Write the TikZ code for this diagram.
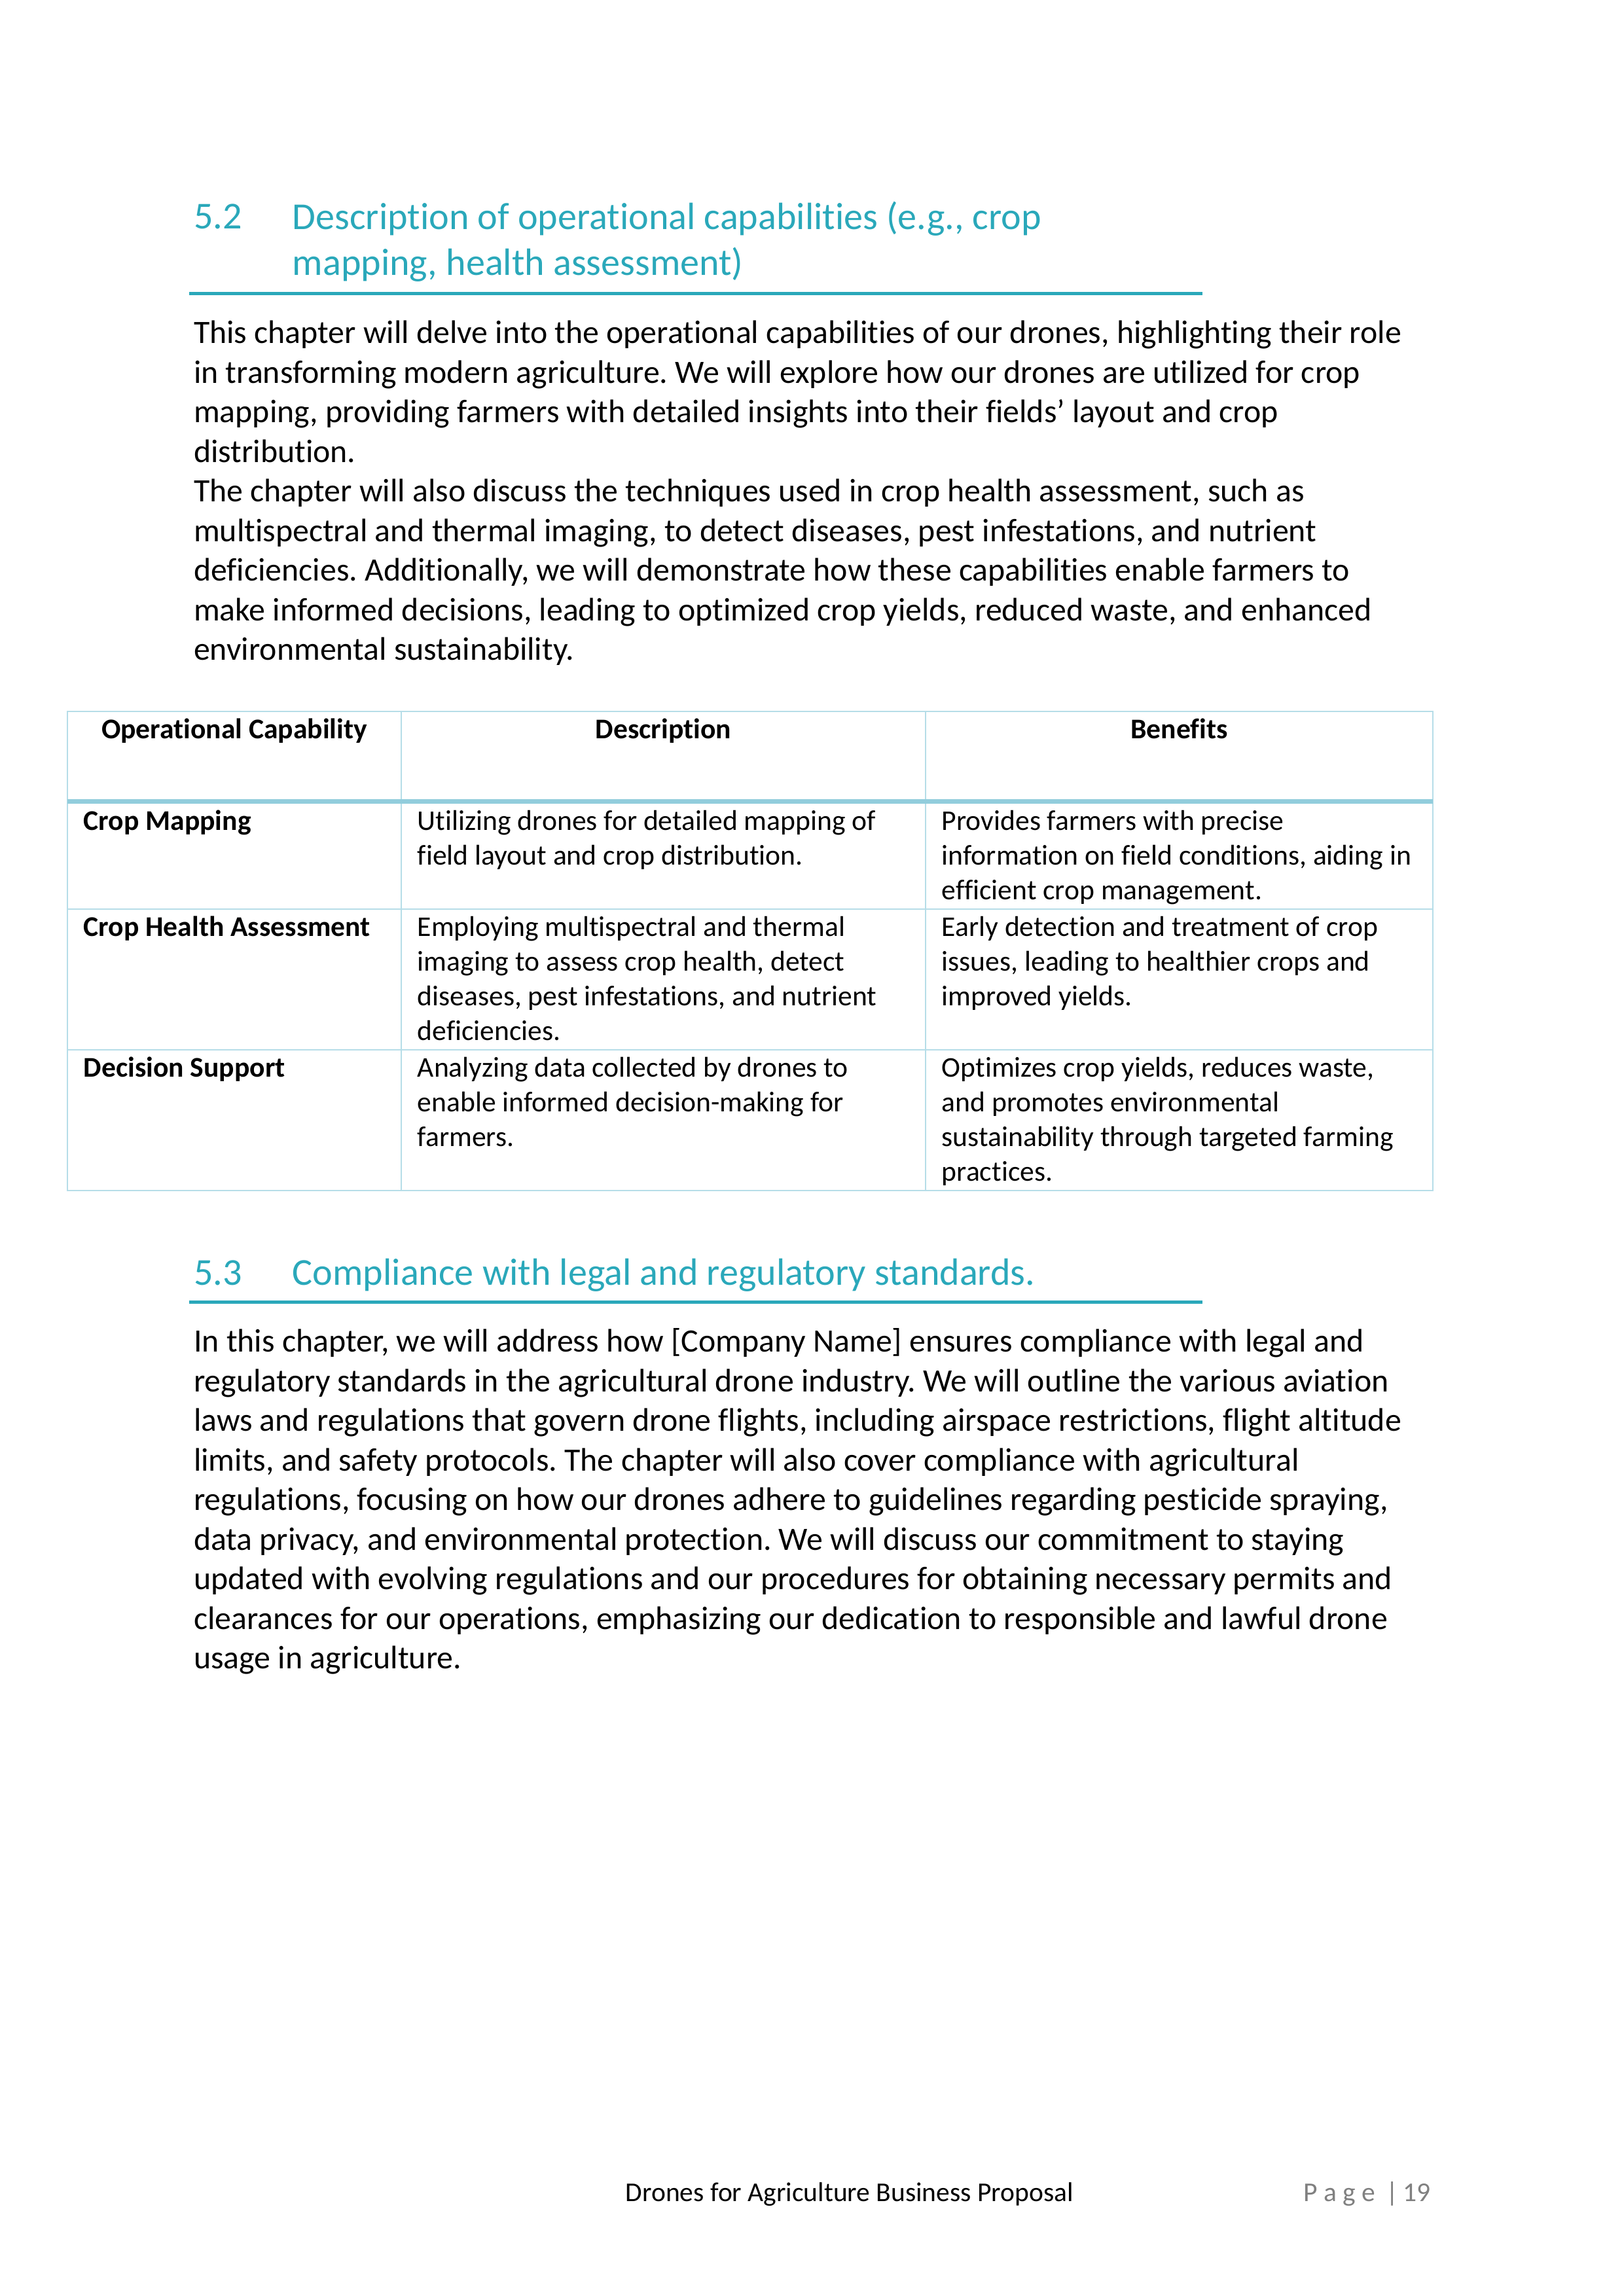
\documentclass[tikz,border=0pt]{standalone}
\usepackage{fontspec}
\setmainfont{Carlito}[Ligatures={TeX,NoCommon}]
\frenchspacing
\definecolor{tituloazul}{RGB}{42,168,186}
\definecolor{gradeazul}{RGB}{182,221,232}
\definecolor{gradeforte}{RGB}{146,205,220}
\definecolor{rodapecinza}{RGB}{128,128,128}
\tikzset{
  texto/.style={anchor=base west, inner sep=0pt, align=left, font=\fontsize{12}{14.57}\selectfont},
  titulo/.style={anchor=base west, inner sep=0pt, align=left, text=tituloazul, font=\fontsize{14}{16.8}\selectfont},
  celula/.style={anchor=base west, inner sep=0pt, align=left, font=\fontsize{10.5}{12.72}\selectfont},
  celulanegrito/.style={celula, font=\fontsize{10.5}{12.72}\selectfont\bfseries},
  cabecalho/.style={anchor=base, inner sep=0pt, font=\fontsize{10.5}{12.72}\selectfont\bfseries},
  grade/.style={draw=gradeazul, line width=0.6pt},
  regua/.style={draw=tituloazul, line width=1.2pt},
}
\begin{document}
\begin{tikzpicture} %Pagina A4 (ancora base = ultima linha do texto)
	\useasboundingbox (0,0) rectangle (21,-29.7);
		%Secao 5.2
	\node[titulo] (num52) at (2.5,-2.963) {5.2};
	\node[titulo] (tit52) at (3.776,-3.556) {Description of operational capabilities (e.g., crop\\mapping, health assessment)};
	\draw[regua] (2.447,-3.797) -- (15.553,-3.797); %Linha do titulo
	\node[texto] (par52) at (2.5,-8.539) {This chapter will delve into the operational capabilities of our drones, highlighting their role\\in transforming modern agriculture. We will explore how our drones are utilized for crop\\mapping, providing farmers with detailed insights into their fields' layout and crop\\distribution.\\The chapter will also discuss the techniques used in crop health assessment, such as\\multispectral and thermal imaging, to detect diseases, pest infestations, and nutrient\\deficiencies. Additionally, we will demonstrate how these capabilities enable farmers to\\make informed decisions, leading to optimized crop yields, reduced waste, and enhanced\\environmental sustainability.};
		%Tabela
	\draw[grade] (0.872,-9.203) rectangle (18.533,-15.401);
	\draw[grade] (5.190,-9.203) -- (5.190,-15.401);
	\draw[grade] (11.972,-9.203) -- (11.972,-15.401);
	\draw[grade] (0.872,-11.760) -- (18.533,-11.760);
	\draw[grade] (0.872,-13.580) -- (18.533,-13.580);
	\draw[gradeforte, line width=1.5pt] (0.872,-10.367) -- (18.533,-10.367); %Linha do cabecalho
	\node[cabecalho] (cabcap) at (3.031,-9.550) {Operational Capability};
	\node[cabecalho] (cabdesc) at (8.581,-9.550) {Description};
	\node[cabecalho] (cabben) at (15.253,-9.550) {Benefits};
		%Linha 1
	\node[celulanegrito] (cap1) at (1.075,-10.736) {Crop Mapping};
	\node[celula] (desc1) at (5.393,-11.185) {Utilizing drones for detailed mapping of\\field layout and crop distribution.};
	\node[celula] (ben1) at (12.175,-11.633) {Provides farmers with precise\\information on field conditions, aiding in\\efficient crop management.};
		%Linha 2
	\node[celulanegrito] (cap2) at (1.075,-12.107) {Crop Health Assessment};
	\node[celula] (desc2) at (5.393,-13.453) {Employing multispectral and thermal\\imaging to assess crop health, detect\\diseases, pest infestations, and nutrient\\deficiencies.};
	\node[celula] (ben2) at (12.175,-13.005) {Early detection and treatment of crop\\issues, leading to healthier crops and\\improved yields.};
		%Linha 3
	\node[celulanegrito] (cap3) at (1.075,-13.928) {Decision Support};
	\node[celula] (desc3) at (5.393,-14.825) {Analyzing data collected by drones to\\enable informed decision-making for\\farmers.};
	\node[celula] (ben3) at (12.175,-15.274) {Optimizes crop yields, reduces waste,\\and promotes environmental\\sustainability through targeted farming\\practices.};
		%Secao 5.3
	\node[titulo] (num53) at (2.5,-16.620) {5.3};
	\node[titulo] (tit53) at (3.776,-16.620) {Compliance with legal and regulatory standards.};
	\draw[regua] (2.447,-16.845) -- (15.553,-16.845);
	\node[texto] (par53) at (2.5,-21.587) {In this chapter, we will address how [Company Name] ensures compliance with legal and\\regulatory standards in the agricultural drone industry. We will outline the various aviation\\laws and regulations that govern drone flights, including airspace restrictions, flight altitude\\limits, and safety protocols. The chapter will also cover compliance with agricultural\\regulations, focusing on how our drones adhere to guidelines regarding pesticide spraying,\\data privacy, and environmental protection. We will discuss our commitment to staying\\updated with evolving regulations and our procedures for obtaining necessary permits and\\clearances for our operations, emphasizing our dedication to responsible and lawful drone\\usage in agriculture.};
		%Rodape
	\node[anchor=base west, inner sep=0pt, font=\fontsize{10}{12.2}\selectfont] (rodape) at (8.086,-28.473) {Drones for Agriculture Business Proposal};
	\node[anchor=base east, inner sep=0pt, font=\fontsize{10}{12.2}\selectfont, text=rodapecinza] (pagina) at (18.508,-28.473) {P a g e \,|\,19};
\end{tikzpicture}
\end{document}
